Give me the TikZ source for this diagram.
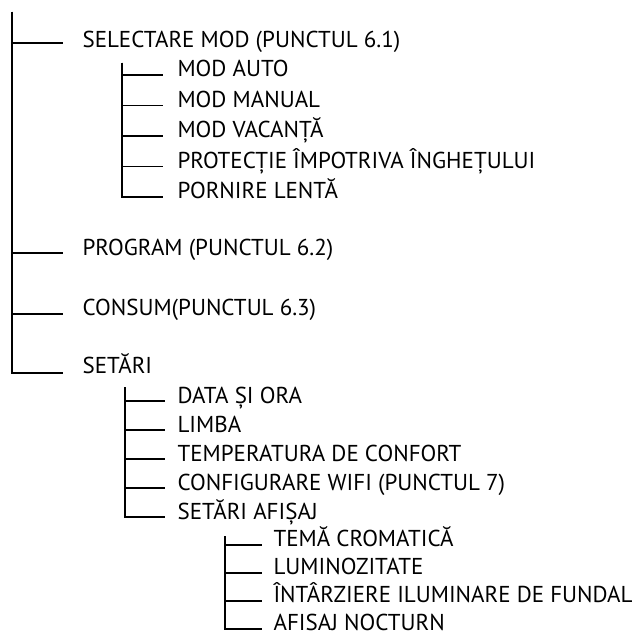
\documentclass[tikz,border=0pt]{standalone}
\usepackage{fontspec}
\setmainfont{PT Sans}

\begin{document}
\begin{tikzpicture}[x=1pt,y=-1pt,line width=1.1pt,
		lbl/.style={anchor=base west,inner sep=0pt,font=\fontsize{23}{26}\selectfont}]
		\useasboundingbox (0,0) rectangle (644,636);
		\coordinate (root) at (12,12);
		\node[lbl] (sel) at (82,48) {SELECTARE MOD (PUNCTUL 6.1)};
		\node[lbl] (prog) at (82,255) {PROGRAM (PUNCTUL 6.2)};
		\node[lbl] (cons) at (82,315) {CONSUM(PUNCTUL 6.3)};
		\node[lbl] (set) at (82,373) {SETĂRI};
		\draw (root) |- ([xshift=-19pt,yshift=5pt]sel.base west);
		\draw (root) |- ([xshift=-19pt,yshift=2pt]prog.base west);
		\draw (root) |- ([xshift=-19pt,yshift=1pt]cons.base west);
		\draw (root) |- ([xshift=-19pt]set.base west);
		\coordinate (modtop) at (122,63);
		\foreach \t [count=\i] in {MOD AUTO,MOD MANUAL,MOD VACANȚĂ,PROTECȚIE ÎMPOTRIVA ÎNGHEȚULUI,PORNIRE LENTĂ}
			\node[lbl] (mod\i) at (177,{77+30.5*(\i-1)}) {\t};
		\foreach \i in {1,...,5}
			\draw (modtop) |- ([xshift=-14pt,yshift=2pt]mod\i.base west);
		\coordinate (settop) at (125,387);
		\foreach \t [count=\i] in {DATA ȘI ORA,LIMBA,TEMPERATURA DE CONFORT,CONFIGURARE WIFI (PUNCTUL 7),SETĂRI AFIȘAJ}
			\node[lbl] (set\i) at (177,{403+29*(\i-1)}) {\t};
		\foreach \i in {1,...,5}
			\draw (settop) |- ([xshift=-12pt,yshift=2pt]set\i.base west);
		\coordinate (afitop) at (225,536);
		\foreach \t [count=\i] in {TEMĂ CROMATICĂ,LUMINOZITATE,ÎNTÂRZIERE ILUMINARE DE FUNDAL,AFISAJ NOCTURN}
			\node[lbl] (afi\i) at (273,{546+28*(\i-1)}) {\t};
		\foreach \i in {1,...,4}
			\draw (afitop) |- ([xshift=-11pt,yshift=1pt]afi\i.base west);
\end{tikzpicture}
\end{document}
